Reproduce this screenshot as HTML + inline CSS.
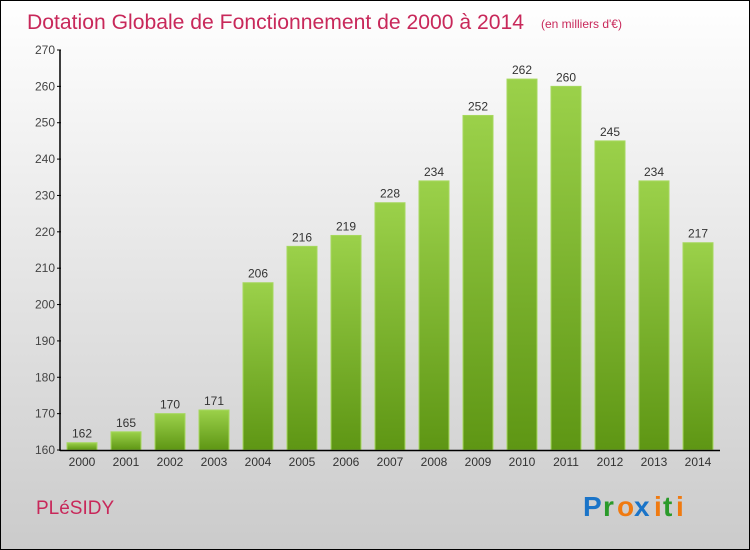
<!DOCTYPE html>
<html><head><meta charset="utf-8"><style>
body{margin:0;width:750px;height:550px;overflow:hidden}
svg{display:block}
text{font-family:"Liberation Sans","DejaVu Sans",sans-serif}
</style></head><body>
<svg width="750" height="550">
<defs>
<linearGradient id="bg" x1="0" y1="0" x2="0" y2="1"><stop offset="0" stop-color="#ffffff"/><stop offset="1" stop-color="#cbcbcb"/></linearGradient>
<linearGradient id="bar" x1="0" y1="0" x2="0" y2="1"><stop offset="0" stop-color="#9bd14a"/><stop offset="1" stop-color="#5e9614"/></linearGradient>
</defs>
<rect x="0.5" y="0.5" width="749" height="549" fill="url(#bg)" stroke="#000"/>
<text x="27" y="29" font-size="21" fill="#c8285a" textLength="497" lengthAdjust="spacingAndGlyphs">Dotation Globale de Fonctionnement de 2000 à 2014</text>
<text x="541" y="28" font-size="12" fill="#c8285a">(en milliers d'€)</text>
<g id="plot"></g>
<text x="36" y="514" font-size="19" fill="#c8285a">PLéSIDY</text>
<g font-size="28" font-weight="bold">
<text x="583" y="516" fill="#1a74c8">P</text><text x="603" y="516" fill="#2a9a2a">r</text><text x="617" y="516" fill="#f07a10">o</text><text x="634" y="516" fill="#1a74c8">x</text><text x="654" y="516" fill="#f07a10">i</text><text x="663" y="516" fill="#2a9a2a">t</text><text x="676" y="516" fill="#f07a10">i</text>
</g>
</svg>
<script>
const years=["2000","2001","2002","2003","2004","2005","2006","2007","2008","2009","2010","2011","2012","2013","2014"];
const values=[162,165,170,171,206,216,219,228,234,252,262,260,245,234,217];
const ticks=[160,170,180,190,200,210,220,230,240,250,260,270];
const NS="http://www.w3.org/2000/svg";
const g=document.getElementById('plot');
const y=v=>450-(v-160)*400/110;
const x=i=>82+44*i;
function mk(t,a,txt){const e=document.createElementNS(NS,t);for(const k in a)e.setAttribute(k,a[k]);if(txt!==undefined)e.textContent=txt;g.appendChild(e);return e;}
ticks.forEach(t=>{
 const l=mk('line',{x1:57,x2:61,y1:y(t),y2:y(t),stroke:'#000'});
 
 
 const tx=mk('text',{x:55,y:y(t)+4,'text-anchor':'end','font-size':12,fill:'#444'},t);
 
 
});
values.forEach((v,i)=>{
 const r=mk('rect',{x:x(i)-15,y:y(v),width:30,height:450-y(v),fill:'url(#bar)',stroke:'#a6d85e','stroke-width':1});
 
 
 const t=mk('text',{x:x(i),y:y(v)-5,'text-anchor':'middle','font-size':12,fill:'#333'},v);
 
 
 const xl=mk('text',{x:x(i),y:466,'text-anchor':'middle','font-size':12,fill:'#333'},years[i]);
 
 
});
const ya=mk('line',{x1:60,x2:60,y1:50,y2:451,stroke:'#000','stroke-width':1.5});


const xa=mk('line',{x1:60,x2:720,y1:450.5,y2:450.5,stroke:'#000','stroke-width':1.5});


</script>
</body></html>
